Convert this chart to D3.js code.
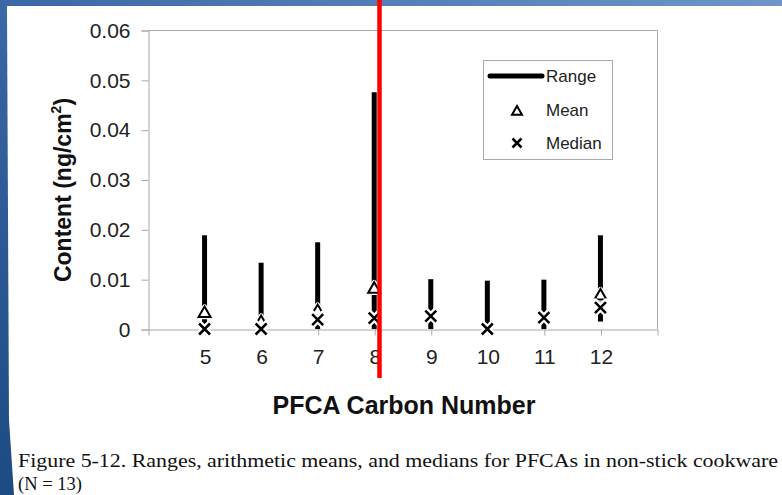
<!DOCTYPE html>
<html>
<head>
<meta charset="utf-8">
<script src="https://cdn.jsdelivr.net/npm/d3@7"></script>
<style>
  html, body { margin: 0; padding: 0; background: #fff; }
  svg { display: block; }
</style>
</head>
<body>
<svg id="chart" width="782" height="495"></svg>
<script>
// PFCA content in non-stick cookware, by carbon number
const carbonNumbers = [5, 6, 7, 8, 9, 10, 11, 12];
const rangeMin = [0, 0, 0, 0, 0, 0, 0, 0.0015];
const rangeMax = [0.0188, 0.0133, 0.0174, 0.0475, 0.0100, 0.0097, 0.0099, 0.0188];
const meanValues = [0.0033, 0.0015, 0.0037, 0.0082, null, null, null, 0.0068];
const medianValues = [0, 0, 0.0019, 0.0022, 0.0026, 0, 0.0023, 0.0043];
const yTickValues = [0, 0.01, 0.02, 0.03, 0.04, 0.05, 0.06];
const yTickLabels = ["0", "0.01", "0.02", "0.03", "0.04", "0.05", "0.06"];
const legendLabels = ["Range", "Mean", "Median"];

const svg = d3.select("#chart");
const W = 782, H = 495;

// slide backdrop
const defs = svg.append("defs");
const bg = defs.append("linearGradient").attr("id", "slideBg")
  .attr("x1", "0").attr("y1", "1").attr("x2", "1").attr("y2", "0");
bg.append("stop").attr("offset", "0").attr("stop-color", "#1c4a82");
bg.append("stop").attr("offset", "0.5").attr("stop-color", "#3b68a6");
bg.append("stop").attr("offset", "1").attr("stop-color", "#6f95c9");
svg.append("rect").attr("width", W).attr("height", H).attr("fill", "url(#slideBg)");
svg.append("path")
  .attr("d", "M7,6 L782,6 L782,495 L14,495 L9,420 Z")
  .attr("fill", "#ffffff");

const plot = { left: 148, right: 657, top: 30, bottom: 329 };
const x = d3.scaleLinear().domain([4, 13]).range([plot.left, plot.right]);
const y = d3.scaleLinear().domain([0, 0.06]).range([plot.bottom, plot.top]);

const axisColor = "#a9a9a9";
const font = "'Liberation Sans', Arial, sans-serif";

// plot frame (top and right edges)
svg.append("path")
  .attr("d", `M${plot.left},${plot.top + 0.5}H${plot.right + 0.5}V${plot.bottom}`)
  .attr("fill", "none").attr("stroke", axisColor).attr("stroke-width", 1);

// y axis
const yAxis = d3.axisLeft(y)
  .tickValues(yTickValues)
  .tickFormat((d, i) => yTickLabels[i])
  .tickSize(7).tickPadding(11);
const gy = svg.append("g").attr("transform", `translate(${plot.left + 0.5},0.5)`).call(yAxis);
gy.select(".domain").attr("stroke", axisColor);
gy.selectAll(".tick line").attr("stroke", axisColor);
gy.selectAll(".tick text").attr("font-family", font).attr("font-size", 21).attr("fill", "#222");

// x axis
const xAxis = d3.axisBottom(x)
  .tickValues(d3.range(4, 14))
  .tickFormat(d => carbonNumbers.includes(d) ? String(d) : "")
  .tickSize(6).tickPadding(14).tickSizeOuter(0);
const gx = svg.append("g").attr("transform", `translate(0.5,${plot.bottom + 0.5})`).call(xAxis);
gx.select(".domain").attr("stroke", axisColor);
gx.selectAll(".tick line").attr("stroke", axisColor);
gx.selectAll(".tick text").attr("font-family", font).attr("font-size", 21).attr("fill", "#222");

// axis titles
svg.append("text")
  .attr("transform", `translate(71,190) rotate(-90)`)
  .attr("text-anchor", "middle")
  .attr("font-family", font).attr("font-weight", "bold").attr("font-size", 23)
  .attr("fill", "#111")
  .call(t => {
    t.append("tspan").text("Content (ng/cm");
    t.append("tspan").attr("font-size", 14).attr("dy", -10).text("2");
    t.append("tspan").attr("dy", 10).text(")");
  });

svg.append("text")
  .attr("x", 404).attr("y", 414)
  .attr("text-anchor", "middle")
  .attr("font-family", font).attr("font-weight", "bold").attr("font-size", 25)
  .attr("fill", "#111")
  .text("PFCA Carbon Number");

// marker shapes
const triPath = (cx, cy, r = 6) => `M${cx},${cy - r}L${cx + r},${cy + r * 0.75}L${cx - r},${cy + r * 0.75}Z`;
const xPath = (cx, cy, r = 5.5) => `M${cx - r},${cy - r}L${cx + r},${cy + r}M${cx - r},${cy + r}L${cx + r},${cy - r}`;

// range bars
const marks = svg.append("g");
marks.selectAll("line.range")
  .data(carbonNumbers)
  .join("line")
  .attr("class", "range")
  .attr("x1", d => x(d)).attr("x2", d => x(d))
  .attr("y1", (d, i) => y(rangeMin[i])).attr("y2", (d, i) => y(rangeMax[i]))
  .attr("stroke", "#000").attr("stroke-width", 5);

// means (open triangles)
const meanData = carbonNumbers.map((c, i) => ({ c, v: meanValues[i] })).filter(d => d.v !== null);
marks.selectAll("path.mean-halo")
  .data(meanData).join("path").attr("class", "mean-halo")
  .attr("d", d => triPath(x(d.c), y(d.v)))
  .attr("fill", "#fff").attr("stroke", "#fff").attr("stroke-width", 4.5).attr("stroke-linejoin", "round");
marks.selectAll("path.mean")
  .data(meanData).join("path").attr("class", "mean")
  .attr("d", d => triPath(x(d.c), y(d.v)))
  .attr("fill", "#fff").attr("stroke", "#000").attr("stroke-width", 2);

// medians (crosses)
const medData = carbonNumbers.map((c, i) => ({ c, v: medianValues[i] }));
marks.selectAll("path.med-halo")
  .data(medData).join("path").attr("class", "med-halo")
  .attr("d", d => xPath(x(d.c), y(d.v)))
  .attr("stroke", "#fff").attr("stroke-width", 7).attr("stroke-linecap", "round");
marks.selectAll("path.med")
  .data(medData).join("path").attr("class", "med")
  .attr("d", d => xPath(x(d.c), y(d.v)))
  .attr("stroke", "#000").attr("stroke-width", 2.5);

// legend
const lg = svg.append("g");
lg.append("rect").attr("x", 483.5).attr("y", 60.5).attr("width", 129).attr("height", 99)
  .attr("fill", "#fff").attr("stroke", axisColor);
lg.append("line").attr("x1", 490).attr("x2", 542).attr("y1", 76).attr("y2", 76)
  .attr("stroke", "#000").attr("stroke-width", 5).attr("stroke-linecap", "round");
lg.append("path").attr("d", triPath(517, 111, 5)).attr("fill", "#fff").attr("stroke", "#000").attr("stroke-width", 2);
lg.append("path").attr("d", xPath(517, 143, 4.5)).attr("stroke", "#000").attr("stroke-width", 2.5);
lg.selectAll("text.lab")
  .data(legendLabels).join("text").attr("class", "lab")
  .attr("x", 546).attr("y", (d, i) => [76, 110, 143][i] + 6)
  .attr("font-family", font).attr("font-size", 17).attr("fill", "#222")
  .text(d => d);

// marker line through carbon number 8
svg.append("line")
  .attr("x1", 379.5).attr("x2", 379.5).attr("y1", 0).attr("y2", 378)
  .attr("stroke", "#ff0000").attr("stroke-width", 4.5);

// caption
const cap = svg.append("g").attr("font-family", "'Liberation Serif', 'Times New Roman', serif")
  .attr("font-size", 19.5).attr("fill", "#111");
cap.append("text").attr("x", 18).attr("y", 467)
  .attr("textLength", 760).attr("lengthAdjust", "spacingAndGlyphs")
  .text("Figure 5-12. Ranges, arithmetic means, and medians for PFCAs in non-stick cookware");
cap.append("text").attr("x", 18).attr("y", 490)
  .attr("textLength", 64).attr("lengthAdjust", "spacingAndGlyphs")
  .text("(N = 13)");
</script>
</body>
</html>
